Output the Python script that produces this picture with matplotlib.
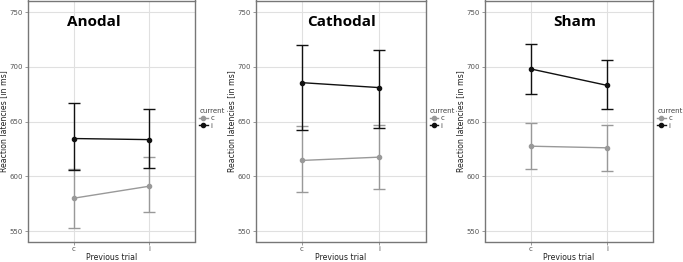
import matplotlib
matplotlib.use("Agg")
import matplotlib.pyplot as plt
from matplotlib.lines import Line2D

prev_trial = ['c', 'i']
panels = ['Anodal', 'Cathodal', 'Sham']

anodal_c_mean = [580, 591]
anodal_c_lo = [553, 567.5]
anodal_c_hi = [607, 618]
anodal_i_mean = [634.5, 633.5]
anodal_i_lo = [606, 608]
anodal_i_hi = [667, 661]

cathodal_c_mean = [614.5, 617.5]
cathodal_c_lo = [585.5, 588.5]
cathodal_c_hi = [646, 647]
cathodal_i_mean = [685.5, 681]
cathodal_i_lo = [642.5, 644.5]
cathodal_i_hi = [720, 715]

sham_c_mean = [627.5, 626]
sham_c_lo = [607, 605]
sham_c_hi = [649, 647]
sham_i_mean = [698, 683]
sham_i_lo = [675, 661]
sham_i_hi = [721, 706]

data = {
    'Anodal': [(anodal_c_mean, anodal_c_lo, anodal_c_hi), (anodal_i_mean, anodal_i_lo, anodal_i_hi)],
    'Cathodal': [(cathodal_c_mean, cathodal_c_lo, cathodal_c_hi), (cathodal_i_mean, cathodal_i_lo, cathodal_i_hi)],
    'Sham': [(sham_c_mean, sham_c_lo, sham_c_hi), (sham_i_mean, sham_i_lo, sham_i_hi)],
}
colors = ['#999999', '#111111']
current_labels = ['c', 'i']
yticks = [550, 600, 650, 700, 750]

W, H = 683, 262
fig = plt.figure(figsize=(W / 100, H / 100), dpi=100)
fig.patch.set_facecolor('white')

# (left px, right px, top px, bottom px)
boxes = [(28, 195, 0.5, 241.5), (255.5, 425.5, 0.5, 241.5), (485, 653, 0.5, 241.5)]
title_x = [94, 342, 575]

for name, (l, r, t, b), tx in zip(panels, boxes, title_x):
    ax = fig.add_axes([l / W, (H - b) / H, (r - l) / W, (b - t) / H])
    xs = [0, 1]
    for (mean, lo, hi), col in zip(data[name], colors):
        yerr = [[m - a for m, a in zip(mean, lo)], [h - m for m, h in zip(mean, hi)]]
        ax.errorbar(xs, mean, yerr=yerr, color=col, lw=1.0, elinewidth=1.0,
                    capsize=4.2, capthick=1.0, marker='o', markersize=3, zorder=3)
    ax.set_xlim(-0.6, 1.6)
    ax.set_ylim(540.5, 760.5)
    ax.set_xticks(xs)
    ax.set_xticklabels(prev_trial)
    ax.set_yticks(yticks)
    ax.grid(True, color='#e0e0e0', lw=0.8, zorder=0)
    ax.set_axisbelow(True)
    for s in ax.spines.values():
        s.set_color('#777777')
        s.set_linewidth(1.0)
    ax.tick_params(labelsize=5, labelcolor='#555555', color='#888888', length=2, width=0.6, pad=1.5)
    ax.set_xlabel('Previous trial', fontsize=5.6, color='#222222', labelpad=0.5)
    ax.set_ylabel('Reaction latencies [in ms]', fontsize=5.6, color='#222222', labelpad=1)
    fig.text(tx / W, 1 - 22 / H, name, fontsize=11, fontweight='bold', family='Open Sans',
             ha='center', va='center')
    handles = [Line2D([0], [0], color=c, lw=1.0, marker='o', markersize=3) for c in colors]
    leg = ax.legend(handles, current_labels, title='current', loc='upper left',
                    bbox_to_anchor=(1.025, 0.555), frameon=False, fontsize=5,
                    title_fontsize=5, handlelength=1.2, handletextpad=0.4,
                    labelspacing=0.2, borderaxespad=0, borderpad=0)
    leg._legend_box.align = 'left'
    for txt in leg.get_texts():
        txt.set_color('#444444')
    leg.get_title().set_color('#444444')

fig.savefig('out.png', dpi=100, facecolor='white')
